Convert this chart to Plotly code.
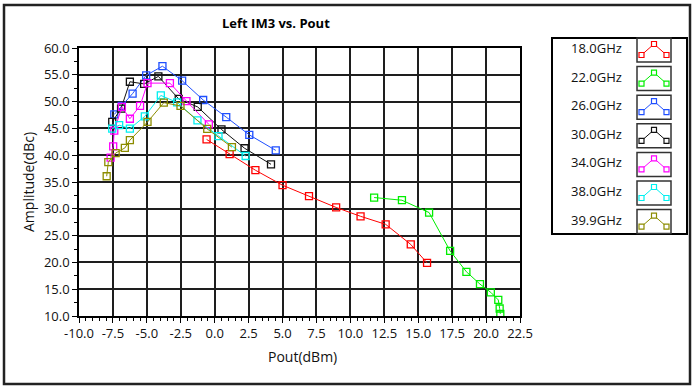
import plotly.graph_objects as go

# ---- data ---------------------------------------------------------------
freq_labels = ["18.0GHz", "22.0GHz", "26.0GHz", "30.0GHz", "34.0GHz", "38.0GHz", "39.9GHz"]

pout_18 = [-0.6, 1.1, 3.0, 5.0, 6.95, 8.95, 10.75, 12.6, 14.45, 15.65]
im3_18 = [42.95, 40.2, 37.2, 34.4, 32.35, 30.25, 28.6, 27.1, 23.35, 19.9]

pout_22 = [11.75, 13.8, 15.8, 17.35, 18.55, 19.55, 20.35, 20.9, 21.0, 21.05]
im3_22 = [32.1, 31.6, 29.3, 22.15, 18.25, 15.95, 14.4, 13.0, 11.4, 10.4]

pout_26 = [-7.4, -6.85, -6.05, -5.05, -3.85, -2.4, -0.85, 0.85, 2.55, 4.5]
im3_26 = [47.6, 49.2, 51.5, 54.9, 56.6, 53.9, 50.3, 47.1, 43.8, 40.9]

pout_30 = [-7.55, -6.9, -6.25, -5.2, -4.15, -2.65, -1.25, 0.5, 2.2, 4.15]
im3_30 = [46.2, 48.7, 53.7, 53.3, 54.7, 50.5, 49.0, 44.8, 41.3, 38.3]

pout_34 = [-7.67, -7.48, -7.4, -6.84, -6.25, -5.5, -4.95, -3.3, -2.08, -0.43]
im3_34 = [39.55, 41.65, 44.6, 49.0, 46.8, 49.2, 53.45, 53.45, 50.1, 45.75]

pout_38 = [-7.55, -7.04, -6.25, -5.15, -3.97, -2.77, -1.27, 0.28, 2.28]
im3_38 = [44.95, 45.6, 44.95, 47.25, 51.15, 49.85, 46.5, 43.55, 39.85]

pout_399 = [-7.96, -7.84, -7.3, -6.62, -6.25, -4.95, -3.75, -2.52, -0.55, 1.27]
im3_399 = [36.07, 38.7, 40.4, 41.35, 42.8, 46.2, 49.8, 49.2, 44.9, 41.5]

x_ticks = [-10.0, -7.5, -5.0, -2.5, 0.0, 2.5, 5.0, 7.5, 10.0, 12.5, 15.0, 17.5, 20.0, 22.5]
y_ticks = [10.0, 15.0, 20.0, 25.0, 30.0, 35.0, 40.0, 45.0, 50.0, 55.0, 60.0]

series = [
    (pout_18, im3_18),
    (pout_22, im3_22),
    (pout_26, im3_26),
    (pout_30, im3_30),
    (pout_34, im3_34),
    (pout_38, im3_38),
    (pout_399, im3_399),
]
colors = ["#ff0000", "#00ee00", "#1f4fff", "#111111", "#ff00ff", "#00f0f0", "#8c8c00"]

# ---- page geometry (pixels) --------------------------------------------
W, H = 693, 387
ML, MR, MT, MB = 79, 173, 48, 71
PW, PH = W - ML - MR, H - MT - MB
FONT = "Open Sans"


def fx(x):
    return (x - ML) / PW


def fy(y):
    return (H - MB - y) / PH


fig = go.Figure()
for (xs, ys), name, col in zip(series, freq_labels, colors):
    fig.add_trace(go.Scatter(
        x=xs, y=ys, name=name, mode="lines+markers",
        line=dict(color=col, width=1),
        marker=dict(symbol="square-open", size=7, color=col, line=dict(width=1.3, color=col)),
        showlegend=False,
    ))

axis_common = dict(
    showgrid=True, gridcolor="#1e1e1e", gridwidth=1.6,
    showline=True, linecolor="#000000", linewidth=1.5, mirror=True,
    zeroline=False, ticks="outside", tickcolor="#000000", ticklen=5, tickwidth=1,
    tickfont=dict(family=FONT, size=13, color="#111111"),
)

# tick labels use a plain ASCII hyphen for negatives
fig.update_xaxes(range=[-10, 22.5], tickvals=x_ticks,
                 ticktext=["{:.1f}".format(v) for v in x_ticks],
                 minor=dict(dtick=0.5, ticks="outside", ticklen=3, tickcolor="#000000", showgrid=False),
                 **axis_common)
fig.update_yaxes(range=[10, 60], tickvals=y_ticks,
                 ticktext=["{:.1f}".format(v) for v in y_ticks],
                 minor=dict(dtick=2.5, ticks="outside", ticklen=3, tickcolor="#000000", showgrid=False),
                 **axis_common)

shapes = []
annotations = []

# outer frame
shapes.append(dict(type="rect", xref="paper", yref="paper",
                   x0=fx(4), x1=fx(690), y0=fy(5), y1=fy(384),
                   line=dict(color="#222222", width=2.5), layer="below"))

# legend frame
shapes.append(dict(type="rect", xref="paper", yref="paper",
                   x0=fx(552), x1=fx(687), y0=fy(38), y1=fy(234),
                   line=dict(color="#000000", width=2)))

for i, (name, col) in enumerate(zip(freq_labels, colors)):
    top = 38 + i * 28.6
    shapes.append(dict(type="rect", xref="paper", yref="paper",
                       x0=fx(637), x1=fx(671), y0=fy(top), y1=fy(top + 24),
                       line=dict(color="#333333", width=1.5)))
    pts = [(641.5, top + 17), (654, top + 6), (666.5, top + 17)]
    path = "M {} {} L {} {} L {} {}".format(
        fx(pts[0][0]), fy(pts[0][1]), fx(pts[1][0]), fy(pts[1][1]), fx(pts[2][0]), fy(pts[2][1]))
    shapes.append(dict(type="path", xref="paper", yref="paper", path=path,
                       line=dict(color=col, width=1)))
    for (qx, qy) in pts:
        shapes.append(dict(type="rect", xref="paper", yref="paper",
                           x0=fx(qx - 2.5), x1=fx(qx + 2.5), y0=fy(qy - 2.5), y1=fy(qy + 2.5),
                           line=dict(color=col, width=1.2), fillcolor="white"))
    annotations.append(dict(text=name, xref="paper", yref="paper",
                            x=fx(624), y=fy(top + 10), xanchor="right", yanchor="middle",
                            showarrow=False, font=dict(family=FONT, size=13, color="#111111")))

annotations.append(dict(text="<b>Left IM3 vs. Pout</b>", xref="paper", yref="paper",
                        x=fx(276), y=fy(23), xanchor="center", yanchor="middle",
                        showarrow=False, font=dict(family=FONT, size=13, color="#000000")))
annotations.append(dict(text="Pout(dBm)", xref="paper", yref="paper",
                        x=fx(302), y=fy(356), xanchor="center", yanchor="middle",
                        showarrow=False, font=dict(family=FONT, size=14, color="#111111")))
annotations.append(dict(text="Amplitude(dBc)", xref="paper", yref="paper",
                        x=fx(28), y=fy(182), xanchor="center", yanchor="middle", textangle=-90,
                        showarrow=False, font=dict(family=FONT, size=14, color="#111111")))

fig.update_layout(
    width=W, height=H,
    margin=dict(l=ML, r=MR, t=MT, b=MB, pad=0),
    paper_bgcolor="white", plot_bgcolor="white",
    shapes=shapes, annotations=annotations,
    showlegend=False,
)

fig.write_html("out.html")
